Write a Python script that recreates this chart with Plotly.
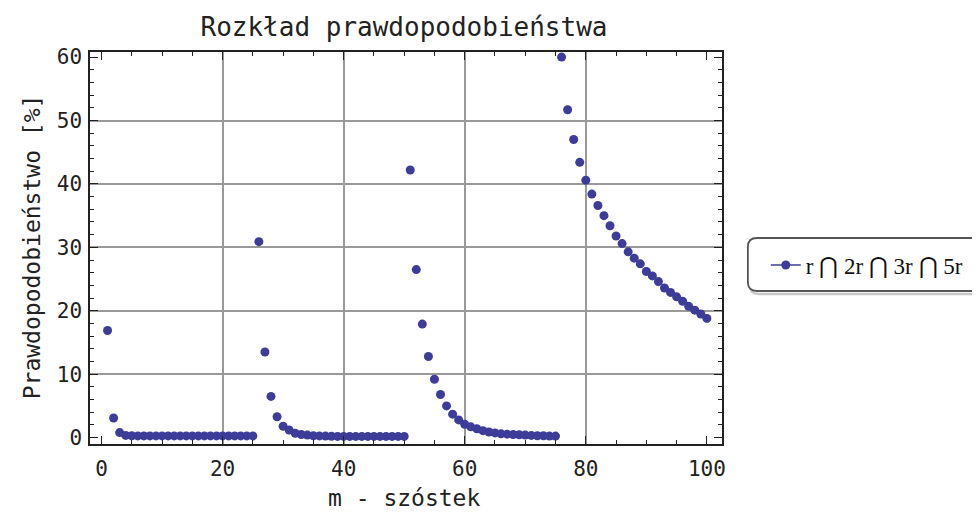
import plotly.graph_objects as go

# ---- data ----
m_values = list(range(1, 101))
seg1 = [16.9, 3.1, 0.8, 0.35, 0.3, 0.28, 0.27, 0.27, 0.27, 0.27, 0.27, 0.27, 0.27,
        0.27, 0.27, 0.27, 0.27, 0.27, 0.27, 0.27, 0.27, 0.27, 0.27, 0.27, 0.27]
seg2 = [30.9, 13.5, 6.5, 3.3, 1.8, 1.2, 0.7, 0.5, 0.4, 0.3, 0.28, 0.25, 0.22, 0.2,
        0.2, 0.2, 0.2, 0.2, 0.2, 0.2, 0.2, 0.2, 0.2, 0.2, 0.2]
seg3 = [42.2, 26.5, 17.9, 12.8, 9.2, 6.8, 5.0, 3.7, 2.8, 2.1, 1.7, 1.4, 1.1, 0.9,
        0.75, 0.6, 0.55, 0.5, 0.45, 0.4, 0.35, 0.3, 0.3, 0.25, 0.25]
seg4 = [60.0, 51.7, 47.0, 43.4, 40.6, 38.4, 36.6, 35.0, 33.4, 31.8, 30.6, 29.3,
        28.3, 27.4, 26.2, 25.5, 24.6, 23.6, 22.9, 22.2, 21.5, 20.7, 20.1, 19.5, 18.8]
probability = seg1 + seg2 + seg3 + seg4

series_name = "r \u22c2 2r \u22c2 3r \u22c2 5r"
title_text = "Rozkład prawdopodobieństwa"
x_label = "m - szóstek"
y_label = "Prawdopodobieństwo [%]"
x_ticks = [0, 20, 40, 60, 80, 100]
y_ticks = [0, 10, 20, 30, 40, 50, 60]
x_grid = [20, 40, 60, 80]
y_grid = [10, 20, 30, 40, 50]

# ---- style ----
OFF = 8  # page body margin
W, H = 980 - OFF, 515 - OFF
L, T = 90 - OFF, 52 - OFF
PR, PB = 725 - OFF, 444 - OFF
R, B = W - PR, H - PB
pw, ph = PR - L, PB - T
COLOR = "#3D3D99"
MONO = "DejaVu Sans Mono"
xr = [-1.9, 102.5]
yr = [-1.0, 60.8]


def px_x(p):
    return (p - OFF - L) / pw


def px_y(p):
    return (PB - (p - OFF)) / ph


fig = go.Figure()
fig.add_trace(go.Scatter(
    x=m_values, y=probability, mode="markers", showlegend=False,
    marker=dict(color=COLOR, size=9, line=dict(width=0)),
))
fig.add_trace(go.Scatter(
    x=[None], y=[None], mode="lines+markers", name=series_name,
    xaxis="x2", yaxis="y2",
    marker=dict(color=COLOR, size=9), line=dict(color=COLOR, width=1.5),
))

axis_common = dict(
    showgrid=False, zeroline=False, showline=True, mirror="ticks",
    linecolor="#222", linewidth=1.5, ticks="inside", ticklen=8,
    tickwidth=1.2, tickcolor="#222",
    tickfont=dict(family=MONO, size=21, color="#222"),
)
fig.update_layout(
    width=W, height=H,
    margin=dict(l=L, r=R, t=T, b=B),
    paper_bgcolor="white", plot_bgcolor="white",
    title=dict(text=title_text, x=(404 - OFF) / W, xref="container", xanchor="center",
               y=1 - (27 - OFF) / H, yref="container", yanchor="middle",
               font=dict(family=MONO, size=26, color="#222")),
    xaxis=dict(range=xr, tickvals=x_ticks, ticklabelstandoff=5, **axis_common,
               minor=dict(ticks="inside", ticklen=4, dtick=5, tickcolor="#222", showgrid=False)),
    yaxis=dict(range=yr, tickvals=y_ticks, ticklabelstandoff=2, **axis_common,
               minor=dict(ticks="inside", ticklen=4, dtick=2, tickcolor="#222", showgrid=False)),
    xaxis2=dict(range=xr, overlaying="x", anchor="y", tickvals=x_grid, showgrid=True,
                gridcolor="#9a9a9a", gridwidth=1.5, showticklabels=False, ticks="",
                showline=False, zeroline=False),
    yaxis2=dict(range=yr, overlaying="y", anchor="x", tickvals=y_grid, showgrid=True,
                gridcolor="#9a9a9a", gridwidth=1.5, showticklabels=False, ticks="",
                showline=False, zeroline=False),
    legend=dict(x=px_x(769), y=px_y(265), xanchor="left", yanchor="middle",
                bgcolor="rgba(0,0,0,0)", borderwidth=0,
                font=dict(family="Liberation Serif", size=23, color="#111")),
    showlegend=True,
)


# rounded legend frame (with soft shadow)
def rounded(x0, y0, x1, y1, r):
    rx, ry = r / pw, r / ph
    X0, X1, Y0, Y1 = px_x(x0), px_x(x1), px_y(y1), px_y(y0)
    return (f"M {X0+rx},{Y1} L {X1-rx},{Y1} Q {X1},{Y1} {X1},{Y1-ry} "
            f"L {X1},{Y0+ry} Q {X1},{Y0} {X1-rx},{Y0} L {X0+rx},{Y0} "
            f"Q {X0},{Y0} {X0},{Y0+ry} L {X0},{Y1-ry} Q {X0},{Y1} {X0+rx},{Y1} Z")


fig.add_shape(type="path", xref="paper", yref="paper",
              path=rounded(753, 240, 995, 294, 9),
              line=dict(color="#c8c8c8", width=2.5), layer="below")
fig.add_shape(type="path", xref="paper", yref="paper",
              path=rounded(751, 238, 993, 291, 9),
              line=dict(color="#555", width=1.8), fillcolor="white", layer="below")

fig.add_annotation(text=x_label, xref="paper", yref="paper", x=px_x(405), y=px_y(498),
                   xanchor="center", yanchor="middle", showarrow=False,
                   font=dict(family=MONO, size=23, color="#222"))
fig.add_annotation(text=y_label, xref="paper", yref="paper", x=px_x(32), y=px_y(247),
                   xanchor="center", yanchor="middle", showarrow=False, textangle=-90,
                   font=dict(family=MONO, size=23, color="#222"))

fig.write_html("out.html")
